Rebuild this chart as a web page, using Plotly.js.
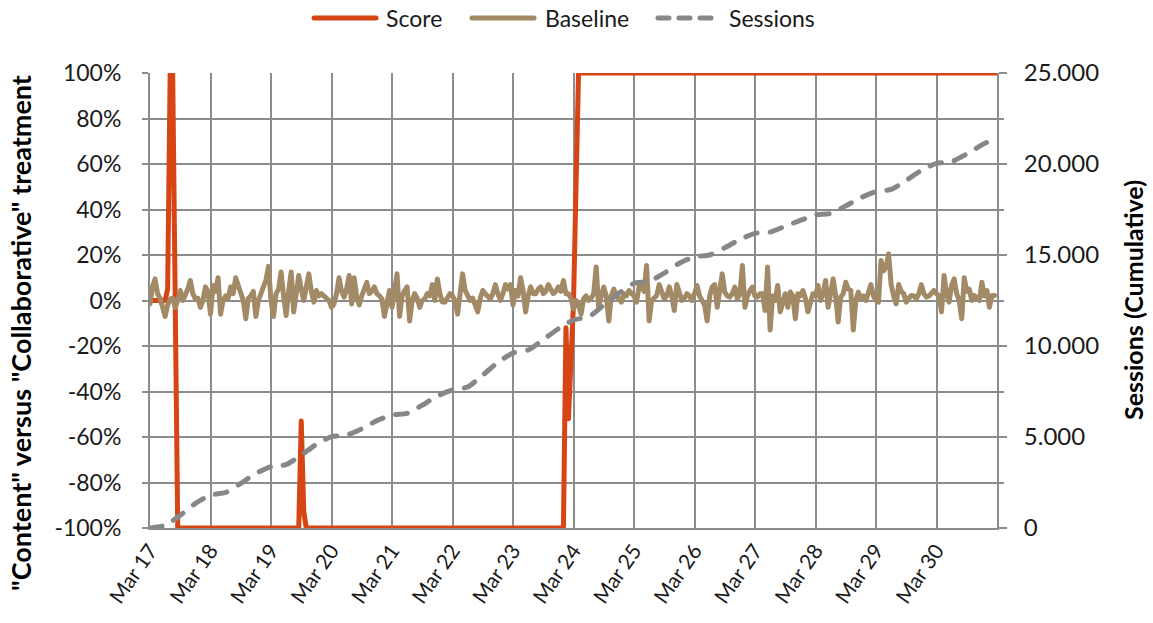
<!DOCTYPE html>
<html>
<head>
<meta charset="utf-8">
<script src="https://cdn.plot.ly/plotly-3.0.1.min.js"></script>
<style>
  body { margin: 0; background: #ffffff; }
  #chart { width: 1153px; height: 623px; }
  path.js-line { stroke-linecap: round; stroke-linejoin: round; }
  .shapelayer path { stroke-linecap: round; }
</style>
</head>
<body>
<div id="chart"></div>
<script>
// ---- data (hourly, starting Mar 17 00:00) ----
const startUTC = Date.UTC(2020, 2, 17, 0, 0, 0);

// Baseline: hourly values in %, Mar 17 00:00 .. Mar 30 23:00
const baseline = [
  -1.5, 6, 9.5, 3, 1, -3, -7, -2, 0.7, 1, -3, 0, 4.4, 0, 2, 5, 8.8, 3, 0.7, 1, -3, 0, 6, 4,
  -6, 6.6, 4, 10, -6, 0, 2, 1, 6, 3, 10, 6, 3, 0, -8, 1, 2, 4, -7, 0, 3, 6, 9, 15,
  0, -7, 3, 5, 12.5, 2, -6.6, 4, 12.5, -5, 2, 11, 5, 0, 6, 11.7, 4, -0.7, 4.4, 2, 3, 2, 1.5, 0,
  -3, -1.5, 3, 10, 4, 1.5, 5, 11, -1.5, 10, 1.5, -2, 2, 4.4, 8, 3, 4, 6, 3, 2, 0.7, -7, 0, 4.4,
  -3, 3, 11.7, -7, 2, 4.4, 6, -9, 0, 3, 1, -3, 0, 0.7, 3, 2, 7, 0, 9.5, 3, -0.7, -0.7, 1, 3,
  2, 0, -6, 3, 11.7, 4.4, 2, 0, 1, -1.5, -5, 1, 4.4, 3, 2, 0.7, 3, 7, 3, 0, 3, 7, 5, 7,
  -2, 4.4, 2, 10, 4.4, -5, 2, 6, 3, 3, 5, 6, 3, 4, 7, 4.4, 3, 4, 6, 4, 8.8, 3, 3, 1,
  -3.7, 0, -2, -6, 0.7, 2, 0, 1, 3, 14.7, -3, 2, 5.9, 2, -9, 2, 5, 2, 0.7, -0.7, 3, 2, 4.4, 3,
  2, -0.7, 6, 7, 4, 15.4, -9, 0, 1.5, 2.2, 7, 3, 0.7, 2, 6, 2, -4.4, 7, 3, 0, 1, 3, 2, 0,
  3, 6.6, 2, 0, -2, -9, 2, 5.9, 7, -3, 4, 11.7, 3.7, 2, 1.5, 3, 5.9, 0.7, 3, 15.4, -3, 2, 4.4, 5.9,
  2, 1.5, 3, 3, -4.4, 14.7, -13, 2, 0, 6.6, -5, 0, 3, -3, 3.7, 2, -8, 3, 2, 4.4, 1, -5, 0, 3,
  2, 6.6, 0, 3, 8.8, -3, 3, 9.5, 2, -9.5, 1.5, 3, 8, 5, 4.4, -13, 0, 3.7, 0.7, 2, 0, 3, 7, 2,
  0, -0.7, 17.6, 13, 15, 20.5, 7, 2, -1.5, 7, 4, 3, -0.7, 1, 2.2, 2, 0.7, 3, 7, 3, 1.5, 2, 3, 4.4,
  3, 2, -5, 11, 3, -0.7, 6.6, 9.5, 3, 0, -8, 10, 4, 5, 0, 2.2, 1, 0, 8, 2, 4.4, -3, 2.2, 2.2
];

// Score: key points (hour index from Mar 17 00:00, value in %)
const scoreHours  = [0, 6, 7, 8, 9, 10, 11, 59, 60, 61, 62, 164, 165, 166, 167, 168, 169, 170, 336];
const scoreValues = [0, 0, 5, 100, 100, 0, -100, -100, -53, -93, -100, -100, -12, -52, -20, -1, 50, 100, 100];

// Sessions (cumulative): every 6 hours
const sessionHours = [
  0, 6, 12, 18, 24, 30, 36, 42, 48, 54, 60, 66, 72, 78, 84, 90, 96, 102, 108, 114,
  120, 126, 132, 138, 144, 150, 156, 162, 168, 174, 180, 186, 192, 198, 204, 210,
  216, 222, 228, 234, 240, 246, 252, 258, 264, 270, 276, 282, 288, 294, 300, 306,
  312, 318, 324, 330, 336
];
const sessionValues = [
  0, 150, 700, 1350, 1813, 1950, 2450, 3000, 3370, 3480, 4000, 4600, 5018, 5100, 5450, 5900,
  6209, 6300, 6750, 7250, 7582, 7750, 8400, 9100, 9615, 9780, 10350, 10950, 11430, 11600,
  12250, 12900, 13443, 13550, 14000, 14550, 14908, 15000, 15400, 15850, 16190, 16260, 16580,
  16900, 17198, 17280, 17700, 18150, 18480, 18600, 19100, 19650, 20037, 20130, 20550, 21050, 21450
];

// Series names / colours
const seriesNames = ['Score', 'Baseline', 'Sessions'];
const seriesColors = ['#D64513', '#A18A65', '#878787'];

// Axis ticks
const xTickDays = ['2020-03-17','2020-03-18','2020-03-19','2020-03-20','2020-03-21','2020-03-22','2020-03-23',
                   '2020-03-24','2020-03-25','2020-03-26','2020-03-27','2020-03-28','2020-03-29','2020-03-30'];
const xTickText = ['Mar 17','Mar 18','Mar 19','Mar 20','Mar 21','Mar 22','Mar 23',
                   'Mar 24','Mar 25','Mar 26','Mar 27','Mar 28','Mar 29','Mar 30'];
const leftTickVals = [-100, -80, -60, -40, -20, 0, 20, 40, 60, 80, 100];
const leftTickText = ['-100%','-80%','-60%','-40%','-20%','0%','20%','40%','60%','80%','100%'];
const rightTickVals = [0, 5000, 10000, 15000, 20000, 25000];
const rightTickText = ['0','5.000','10.000','15.000','20.000','25.000'];

function hourToDate(h) {
  const d = new Date(startUTC + h * 3600000);
  return d.toISOString().slice(0, 16).replace('T', ' ');
}

const baselineX = baseline.map((_, i) => hourToDate(i));
const scoreX = scoreHours.map(hourToDate);
const sessionX = sessionHours.map(hourToDate);

const FONT = 'Lato, "Open Sans", sans-serif';
const GRID = '#8c8c8c';

const traces = [
  { x: scoreX, y: scoreValues, name: seriesNames[0], type: 'scatter', mode: 'lines',
    line: { color: seriesColors[0], width: 5 }, yaxis: 'y', showlegend: false },
  { x: baselineX, y: baseline, name: seriesNames[1], type: 'scatter', mode: 'lines',
    line: { color: seriesColors[1], width: 5 }, yaxis: 'y', showlegend: false },
  { x: sessionX, y: sessionValues, name: seriesNames[2], type: 'scatter', mode: 'lines',
    line: { color: seriesColors[2], width: 5, dash: '12px,13px', shape: 'spline', smoothing: 0.6 },
    yaxis: 'y2', showlegend: false }
];

// Legend drawn in paper coordinates (px converted relative to the plot area)
const PX0 = 150, PW = 847, PY1 = 528, PH = 455;
const px = v => (v - PX0) / PW;
const py = v => (PY1 - v) / PH;
const legendY = py(18);
const legendItems = [
  { x0: 314, x1: 376, tx: 384, dash: 'solid' },
  { x0: 472, x1: 534, tx: 543, dash: 'solid' },
  { x0: 658, x1: 711, tx: 727, dash: '11px,10px' }
];
const shapes = legendItems.map((it, i) => ({
  type: 'line', xref: 'paper', yref: 'paper', x0: px(it.x0), x1: px(it.x1), y0: legendY, y1: legendY,
  line: { color: seriesColors[i], width: 5, dash: it.dash }
}));
const legendLabels = legendItems.map((it, i) => ({
  text: seriesNames[i], xref: 'paper', yref: 'paper', x: px(it.tx), y: legendY,
  xanchor: 'left', yanchor: 'middle', showarrow: false,
  font: { family: FONT, size: 23, color: '#1a1a1a' }
}));

const layout = {
  width: 1153, height: 623,
  margin: { l: 150, r: 156, t: 73, b: 95 },
  paper_bgcolor: '#ffffff', plot_bgcolor: '#ffffff',
  font: { family: FONT, color: '#1a1a1a', size: 22 },
  showlegend: false,
  xaxis: {
    type: 'date', range: [hourToDate(0), hourToDate(336)],
    tickvals: xTickDays, ticktext: xTickText, tickangle: -55,
    tickfont: { family: FONT, size: 21, color: '#1a1a1a' },
    showgrid: true, gridcolor: GRID, gridwidth: 2,
    showline: true, linecolor: GRID, linewidth: 2,
    ticks: '', automargin: false, zeroline: false
  },
  yaxis: {
    range: [-100, 100], tickvals: leftTickVals, ticktext: leftTickText,
    tickfont: { family: FONT, size: 23, color: '#1a1a1a' },
    showgrid: true, gridcolor: GRID, gridwidth: 2,
    showline: true, linecolor: GRID, linewidth: 2,
    ticks: 'outside', ticklen: 6, tickcolor: GRID, tickwidth: 2,
    ticklabelstandoff: 16, zeroline: false, automargin: false
  },
  yaxis2: {
    overlaying: 'y', side: 'right', range: [0, 25000],
    tickvals: rightTickVals, ticktext: rightTickText,
    tickfont: { family: FONT, size: 24, color: '#1a1a1a' },
    showgrid: false, showline: true, linecolor: GRID, linewidth: 2,
    ticks: 'outside', ticklen: 8, tickcolor: GRID, tickwidth: 2,
    minor: { ticks: 'outside', ticklen: 5, dtick: 2500, tickcolor: GRID, tickwidth: 2, showgrid: false },
    ticklabelstandoff: 12, zeroline: false, automargin: false
  },
  shapes: shapes,
  annotations: [
    { text: '<b>"Content" versus "Collaborative" treatment</b>', textangle: -90,
      xref: 'paper', yref: 'paper', x: px(20), y: py(333), xanchor: 'center', yanchor: 'middle',
      showarrow: false, font: { family: FONT, size: 27, color: '#000000' } },
    { text: '<b>Sessions (Cumulative)</b>', textangle: -90,
      xref: 'paper', yref: 'paper', x: px(1133), y: py(300), xanchor: 'center', yanchor: 'middle',
      showarrow: false, font: { family: FONT, size: 25, color: '#000000' } }
  ].concat(legendLabels)
};

Plotly.newPlot('chart', traces, layout, { displayModeBar: false, staticPlot: true });
</script>
</body>
</html>
